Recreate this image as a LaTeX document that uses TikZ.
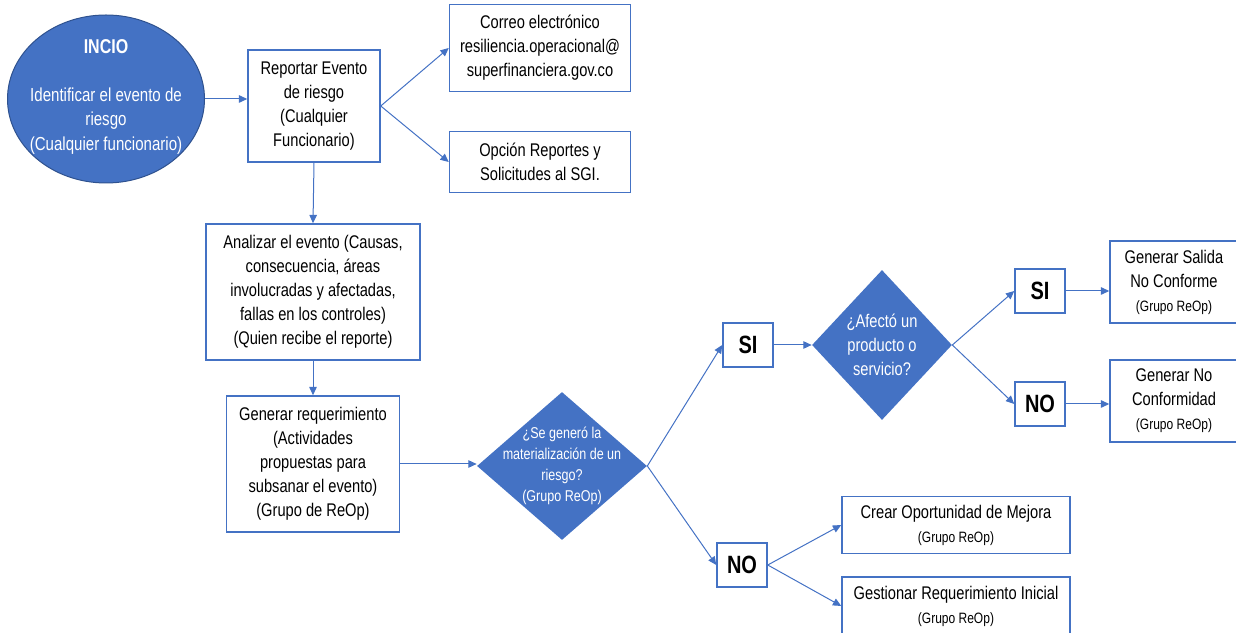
\documentclass[tikz,border=0pt]{standalone}
\usepackage{fontspec}
\setmainfont{Liberation Sans}[FakeStretch=0.8]
\usepackage{tikz}
\usetikzlibrary{arrows.meta, shapes.geometric}
\usepackage{xcolor}
\definecolor{officeblue}{RGB}{68,114,196}
\definecolor{darkofficeblue}{RGB}{47,82,143}
\tikzset{blueboxnode/.style={rectangle, draw=officeblue, line width=0.9pt, fill=white, align=center, inner sep=2pt, font=\fontsize{11}{14.4}\selectfont},
answernode/.style={rectangle, draw=officeblue, line width=0.9pt, fill=white, minimum width=30pt, minimum height=26.4pt, inner sep=0pt, font=\fontsize{15}{18}\selectfont\bfseries},
bluediamondnode/.style={diamond, fill=officeblue, draw=none, inner sep=0pt},
whitetextnode/.style={text=white, align=center, inner sep=0pt}}
\newcommand{\grupotext}{{\fontsize{9}{11}\selectfont(Grupo ReOp)}}

\begin{document}
\begin{tikzpicture}[
        x=0.6pt, y=-0.6pt,
        startnode/.style={ellipse, fill=officeblue, draw=darkofficeblue, line width=0.6pt, inner sep=0pt},
        flowarrow/.style={officeblue, line width=0.6pt, -{Triangle[length=5pt, width=4.5pt]}}
    ]
        \useasboundingbox (0,0) rectangle (1236,633);
        % Start and report
        \node[startnode, minimum width=118.2pt, minimum height=100.8pt,
            label={[whitetextnode, font=\fontsize{11.3}{14.6}\selectfont, yshift=1.2pt]center:{{\fontsize{12}{14}\selectfont\bfseries INCIO}\\[14pt] Identificar el evento de\\ riesgo\\ (Cualquier funcionario)}}] (inicio) at (106,99) {};
        \node[blueboxnode, minimum width=79.2pt, minimum height=67.2pt] (reporte) at (314,106) {Reportar Evento\\ de riesgo\\ (Cualquier\\ Funcionario)};
        \node[blueboxnode, minimum width=108.6pt, minimum height=52.2pt] (correo) at (540,48) {Correo electrónico\\ resiliencia.operacional@\\ superfinanciera.gov.co};
        \node[blueboxnode, minimum width=108.6pt, minimum height=36.6pt] (opcion) at (540,162) {Opción Reportes y\\ Solicitudes al SGI.};
        % Analysis and requirement
        \node[blueboxnode, minimum width=128.4pt, minimum height=81.6pt] (analisis) at (313,292) {Analizar el evento (Causas,\\ consecuencia, áreas\\ involucradas y afectadas,\\ fallas en los controles)\\ (Quien recibe el reporte)};
        \node[blueboxnode, minimum width=103.8pt, minimum height=81.6pt] (requerimiento) at (313,464) {Generar requerimiento\\ (Actividades\\ propuestas para\\ subsanar el evento)\\ (Grupo de ReOp)};
        % Decisions
        \node[bluediamondnode, minimum width=102pt, minimum height=88.8pt,
            label={[whitetextnode, font=\fontsize{9.4}{12.6}\selectfont]center:{¿Se generó la\\ materialización de un\\ riesgo?\\ (Grupo ReOp)}}] (materializacion) at (562,466) {};
        \node[answernode] (si1) at (748,345) {SI};
        \node[answernode] (no1) at (742,565) {NO};
        \node[bluediamondnode, minimum width=84pt, minimum height=90pt,
            label={[whitetextnode, font=\fontsize{11}{14.4}\selectfont]center:{¿Afectó un\\ producto o\\ servicio?}}] (afecto) at (882,345) {};
        \node[answernode] (si2) at (1040,291) {SI};
        \node[answernode] (no2) at (1040,404) {NO};
        % Outcomes
        \node[blueboxnode, minimum width=76.8pt, minimum height=49.2pt] (salida) at (1174,282) {Generar Salida\\ No Conforme\\ \grupotext};
        \node[blueboxnode, minimum width=76.8pt, minimum height=49.2pt] (noconformidad) at (1174,401) {Generar No\\ Conformidad\\ \grupotext};
        \node[blueboxnode, minimum width=136.8pt, minimum height=34.2pt] (mejora) at (956,525) {Crear Oportunidad de Mejora\\ \grupotext};
        \node[blueboxnode, minimum width=136.8pt, minimum height=34.8pt] (gestion) at (956,606) {Gestionar Requerimiento Inicial\\ \grupotext};
        % Arrows
        \draw[flowarrow] (inicio.east) -- (reporte.west |- inicio.east);
        \draw[flowarrow] (reporte.east) -- (correo.west);
        \draw[flowarrow] (reporte.east) -- (opcion.west);
        \draw[flowarrow] (reporte.south) -- (analisis.north);
        \draw[flowarrow] (analisis.south) -- (requerimiento.north);
        \draw[flowarrow] (requerimiento.east) -- (materializacion.west |- requerimiento.east);
        \draw[flowarrow] (materializacion.east) -- (si1.west);
        \draw[flowarrow] (materializacion.east) -- (no1.west);
        \draw[flowarrow] (si1.east) -- (afecto.west);
        \draw[flowarrow] (afecto.east) -- (si2.west);
        \draw[flowarrow] (afecto.east) -- (no2.west);
        \draw[flowarrow] (si2.east) -- (salida.west |- si2.east);
        \draw[flowarrow] (no2.east) -- (noconformidad.west |- no2.east);
        \draw[flowarrow] (no1.east) -- (mejora.west);
        \draw[flowarrow] (no1.east) -- (gestion.west);
    \end{tikzpicture}
\end{document}
